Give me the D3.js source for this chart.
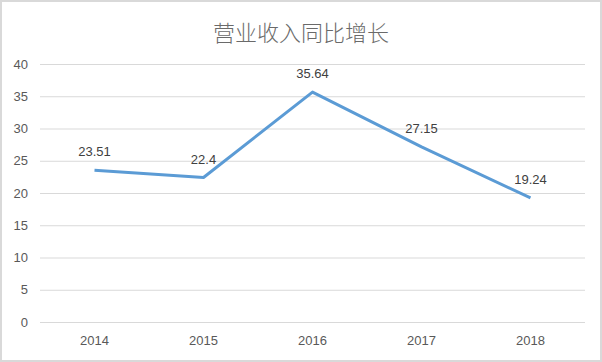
<!DOCTYPE html>
<html>
<head>
<meta charset="utf-8">
<script src="https://cdn.jsdelivr.net/npm/d3@7"></script>
<style>
  body { margin: 0; background: #fff; }
  svg { display: block; }
</style>
</head>
<body>
<script>
var years = ["2014", "2015", "2016", "2017", "2018"];
var growth = [23.51, 22.4, 35.64, 27.15, 19.24];
var yTicks = [0, 5, 10, 15, 20, 25, 30, 35, 40];

var width = 602, height = 362;
var margin = {top: 64, right: 17, bottom: 40, left: 40};

var svg = d3.select("body").append("svg")
    .attr("width", width)
    .attr("height", height);

// outer frame
svg.append("rect")
    .attr("x", 1).attr("y", 1)
    .attr("width", width - 2).attr("height", height - 2)
    .attr("fill", "#fff")
    .attr("stroke", "#d9d9d9")
    .attr("stroke-width", 2);

var x = d3.scaleBand()
    .domain(years)
    .range([margin.left, width - margin.right]);

var y = d3.scaleLinear()
    .domain([0, 40])
    .range([height - margin.bottom, margin.top]);

svg.append("text")
    .attr("x", width / 2)
    .attr("y", 41)
    .attr("text-anchor", "middle")
    .attr("font-family", "Noto Sans CJK SC")
    .attr("font-size", 22)
    .attr("font-weight", 300)
    .attr("fill", "#6a6a6a")
    .text("营业收入同比增长");

// gridlines + y labels
var yAxis = svg.append("g")
    .attr("transform", "translate(" + margin.left + ",0)")
    .call(d3.axisLeft(y).tickValues(yTicks)
        .tickSize(-(width - margin.left - margin.right))
        .tickPadding(12));
yAxis.select(".domain").remove();
yAxis.selectAll("line").attr("stroke", "#d9d9d9");
yAxis.selectAll("text")
    .attr("font-family", "Liberation Sans, Arial")
    .attr("font-size", 13)
    .attr("fill", "#595959");

var xAxis = svg.append("g")
    .attr("transform", "translate(0," + (height - margin.bottom) + ")")
    .call(d3.axisBottom(x).tickSize(0).tickPadding(14));
xAxis.select(".domain").remove();
xAxis.selectAll("text")
    .attr("font-family", "Liberation Sans, Arial")
    .attr("font-size", 13)
    .attr("fill", "#595959");

var line = d3.line()
    .x(function(d, i){ return x(years[i]) + x.bandwidth() / 2; })
    .y(function(d){ return y(d); });

svg.append("path")
    .datum(growth)
    .attr("d", line)
    .attr("fill", "none")
    .attr("stroke", "#5b9bd5")
    .attr("stroke-width", 3)
    .attr("stroke-linejoin", "round");

svg.selectAll("text.lbl")
    .data(growth)
    .enter()
    .append("text")
    .attr("class", "lbl")
    .attr("x", function(d, i){ return x(years[i]) + x.bandwidth() / 2; })
    .attr("y", function(d){ return y(d) - 14; })
    .attr("text-anchor", "middle")
    .attr("font-family", "Liberation Sans, Arial")
    .attr("font-size", 13)
    .attr("fill", "#404040")
    .text(function(d){ return d; });
</script>
</body>
</html>
